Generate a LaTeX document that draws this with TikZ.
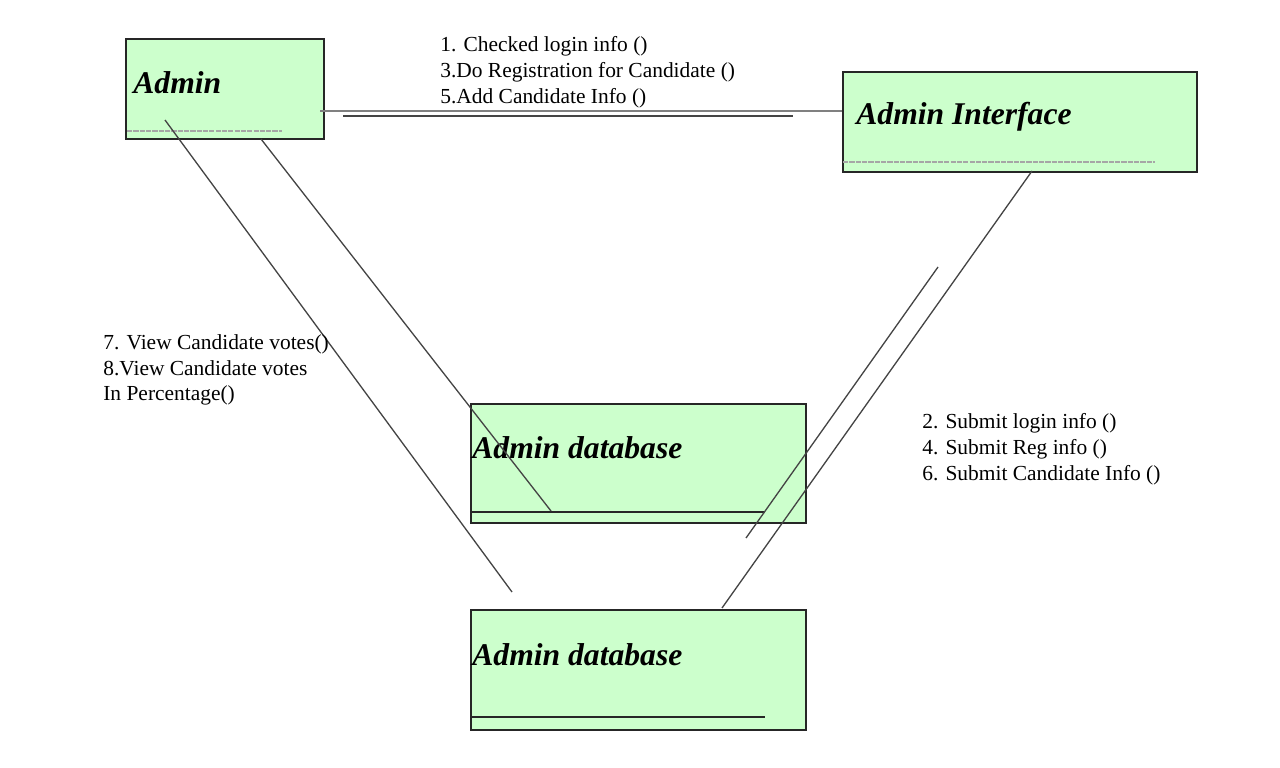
\documentclass[tikz,border=0pt]{standalone}
\usepackage{fontspec}
\setmainfont{Liberation Serif}
\usepackage{tikz}
\definecolor{boxgreen}{HTML}{CCFFCC}
\definecolor{linkgray}{HTML}{444444}
\tikzset{objbox/.style={draw=black!85,fill=boxgreen,line width=1.1pt,inner sep=0pt,anchor=north west},
    objname/.style={anchor=west,inner sep=0pt,font=\fontsize{18}{21}\selectfont\bfseries\itshape},
    msglabel/.style={anchor=north west,inner sep=0pt,align=left,font=\fontsize{12.2}{14.7}\selectfont},
    link/.style={draw=linkgray,line width=0.75pt},
    dashrule/.style={draw=gray!70,line width=1pt,dash pattern=on 3pt off 0.6pt},
    solidrule/.style={draw=black!85,line width=1.1pt}}

\begin{document}
\begin{tikzpicture}[x=0.02cm,y=-0.02cm]
            \useasboundingbox (0,0) rectangle (1280,767);
            % objects
            \node[objbox,minimum width=3.96cm,minimum height=2cm] (admin) at (125,38) {};
            \node[objbox,minimum width=7.08cm,minimum height=2cm] (iface) at (842,71) {};
            \node[objbox,minimum width=6.7cm,minimum height=2.38cm] (dbone) at (470,403) {};
            \node[objbox,minimum width=6.7cm,minimum height=2.4cm] (dbtwo) at (470,609) {};
            \node[objname] (admintxt) at (133,83) {Admin};
            \node[objname] (ifacetxt) at (856,117) {Admin Interface};
            \node[objname] (dbonetxt) at (472,448) {Admin database};
            \node[objname] (dbtwotxt) at (472,655) {Admin database};
            \draw[dashrule] (127,131) -- (282,131);
            \draw[dashrule] (843,162) -- (1155,162);
            \draw[solidrule] (470,512) -- (765,512);
            \draw[solidrule] (470,717) -- (765,717);
            % connector ends
            \coordinate (topA) at (320,111);
            \coordinate (topB) at (842,111);
            \coordinate (botA) at (343,116);
            \coordinate (botB) at (793,116);
            \coordinate (admA) at (165,120);
            \coordinate (admB) at (261,139);
            \coordinate (dbtwoA) at (512,592);
            \coordinate (dboneA) at (551,511);
            \coordinate (ifaceA) at (1032,171);
            \coordinate (ifaceB) at (938,267);
            \coordinate (dbtwoB) at (722,608);
            \coordinate (dboneB) at (746,538);
            % connectors
            \draw[draw=gray,line width=1.1pt] (topA) -- (topB);
            \draw[link,line width=0.9pt] (botA) -- (botB);
            \draw[link] (admA) -- (dbtwoA);
            \draw[link] (admB) -- (dboneA);
            \draw[link] (ifaceA) -- (dbtwoB);
            \draw[link] (ifaceB) -- (dboneB);
            % messages
            \node[msglabel] (msgtop) at (440,36) {1. Checked login info ()\\3.Do Registration for Candidate ()\\5.Add Candidate Info ()};
            \node[msglabel] (msgleft) at (103,334) {7. View Candidate votes()\\8.View Candidate votes\\In Percentage()};
            \node[msglabel] (msgright) at (922,413) {2. Submit login info ()\\4. Submit Reg info ()\\6. Submit Candidate Info ()};
        \end{tikzpicture}
\end{document}
